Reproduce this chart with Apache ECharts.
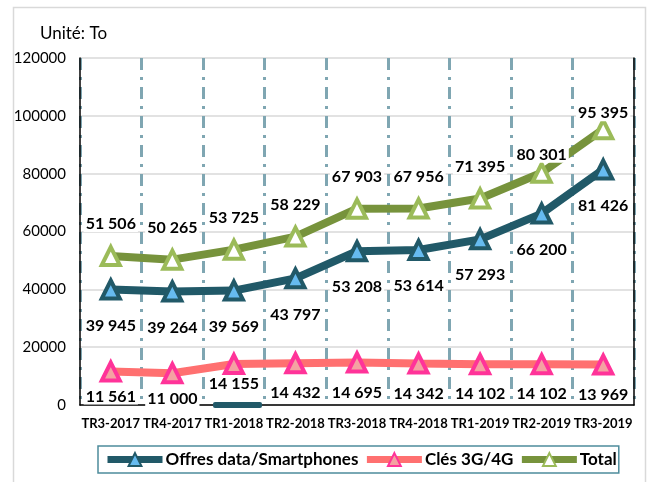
<!DOCTYPE html>
<html>
<head>
<meta charset="utf-8">
<script src="https://cdn.jsdelivr.net/npm/echarts@6/dist/echarts.min.js"></script>
<style>
html,body{margin:0;padding:0;background:#fff;}
#chart{width:654px;height:482px;}
</style>
</head>
<body>
<div id="chart"></div>
<script>
var categories = ['TR3-2017','TR4-2017','TR1-2018','TR2-2018','TR3-2018','TR4-2018','TR1-2019','TR2-2019','TR3-2019'];
var offresData = [39945, 39264, 39569, 43797, 53208, 53614, 57293, 66200, 81426];
var clesData = [11561, 11000, 14155, 14432, 14695, 14342, 14102, 14102, 13969];
var totalData = [51506, 50265, 53725, 58229, 67903, 67956, 71395, 80301, 95395];
var yTicks = [0, 20000, 40000, 60000, 80000, 100000, 120000];

var FONT = 'Lato, "Open Sans", sans-serif';
function fmt(v){ return String(v).replace(/\B(?=(\d{3})+(?!\d))/g, ' '); }

function labelCfg(pos, dist){
  return {
    show: true, position: pos, distance: dist,
    formatter: function(p){ return fmt(p.value); },
    color: '#000', fontFamily: FONT, fontWeight: 'bold', fontSize: 16,
    backgroundColor: '#fff', padding: [0, 2]
  };
}

// small label nudges seen in the reference (series index -> data index -> dy)
var labelNudge = { 1: { 0: -5, 1: -4, 2: -10 }, 2: { 7: 14, 8: 16 } };

var chart = echarts.init(document.getElementById('chart'));
chart.setOption({
  animation: false,
  backgroundColor: '#fff',
  title: {
    text: 'Unité: To', left: 35, top: 20,
    textStyle: { fontFamily: FONT, fontSize: 17, fontWeight: 'normal', color: '#000' }
  },
  graphic: [{
    type: 'rect', shape: { x: 13.5, y: 7.5, width: 632, height: 480 },
    style: { fill: 'none', stroke: '#D9D9D9', lineWidth: 1.5 }, silent: true, z: -10
  }, {
    type: 'rect', shape: { x: 213, y: 402, width: 49, height: 6, r: 2 },
    style: { fill: '#215968' }, silent: true, z: 1
  }],
  grid: { left: 80, right: 20, top: 58, bottom: 77 },
  legend: {
    left: 98, top: 446,
    itemWidth: 55, itemHeight: 16, itemGap: 5,
    borderColor: '#4E8C9C', borderWidth: 1.5, padding: [5, 2, 5, 6],
    lineStyle: { width: 7 },
    textStyle: { fontFamily: FONT, fontSize: 17, fontWeight: 'bold', color: '#000', padding: [0,0,0,-2] },
    data: ['Offres data/Smartphones', 'Clés 3G/4G', 'Total']
  },
  labelLayout: function(p){
    var s = labelNudge[p.seriesIndex];
    if (s && s[p.dataIndex] !== undefined) return { dy: s[p.dataIndex] };
    return {};
  },
  xAxis: [{
    type: 'category', data: categories, boundaryGap: true,
    axisLine: { show: false }, axisTick: { show: false },
    axisLabel: { color: '#000', fontFamily: FONT, fontWeight: 'bold', fontSize: 13, margin: 12, interval: 0 },
    splitLine: { show: true, lineStyle: { color: '#7FA6B2', width: 3, type: [12, 7, 3, 7] } }
  }, {
    type: 'category', data: categories, position: 'top',
    axisLine: { show: true, lineStyle: { color: '#000', width: 1.5 } },
    axisTick: { show: false }, axisLabel: { show: false }, splitLine: { show: false }
  }],
  yAxis: [{
    type: 'value', min: 0, max: 120000, interval: 20000,
    axisLine: { show: true, lineStyle: { color: '#000', width: 1.5 } },
    axisTick: { show: false },
    axisLabel: {
      color: '#000', fontFamily: FONT, fontSize: 15, margin: 14,
      formatter: function(v){ return yTicks.indexOf(v) >= 0 ? String(v) : ''; }
    },
    splitLine: { show: true, lineStyle: { color: '#D9D9D9', width: 1.5 } }
  }, {
    type: 'value', min: 0, max: 120000, interval: 20000, position: 'right',
    axisLine: { show: true, lineStyle: { color: '#000', width: 1.5 } },
    axisTick: { show: false }, axisLabel: { show: false }, splitLine: { show: false }
  }],
  series: [{
    name: 'Offres data/Smartphones', type: 'line', data: offresData,
    symbol: 'triangle', symbolSize: 18,
    lineStyle: { color: '#215968', width: 8 },
    itemStyle: { color: '#66BBF0', borderColor: '#215968', borderWidth: 4 },
    label: labelCfg('bottom', 17), z: 3
  }, {
    name: 'Clés 3G/4G', type: 'line', data: clesData,
    symbol: 'triangle', symbolSize: 18,
    lineStyle: { color: '#FF7070', width: 8 },
    itemStyle: { color: '#F4A2A2', borderColor: '#FF3399', borderWidth: 4 },
    label: labelCfg('bottom', 11), z: 3
  }, {
    name: 'Total', type: 'line', data: totalData,
    symbol: 'triangle', symbolSize: 18,
    lineStyle: { color: '#77933C', width: 8 },
    itemStyle: { color: '#ffffff', borderColor: '#9BBB59', borderWidth: 4 },
    label: labelCfg('top', 13), z: 3
  }]
});
</script>
</body>
</html>
